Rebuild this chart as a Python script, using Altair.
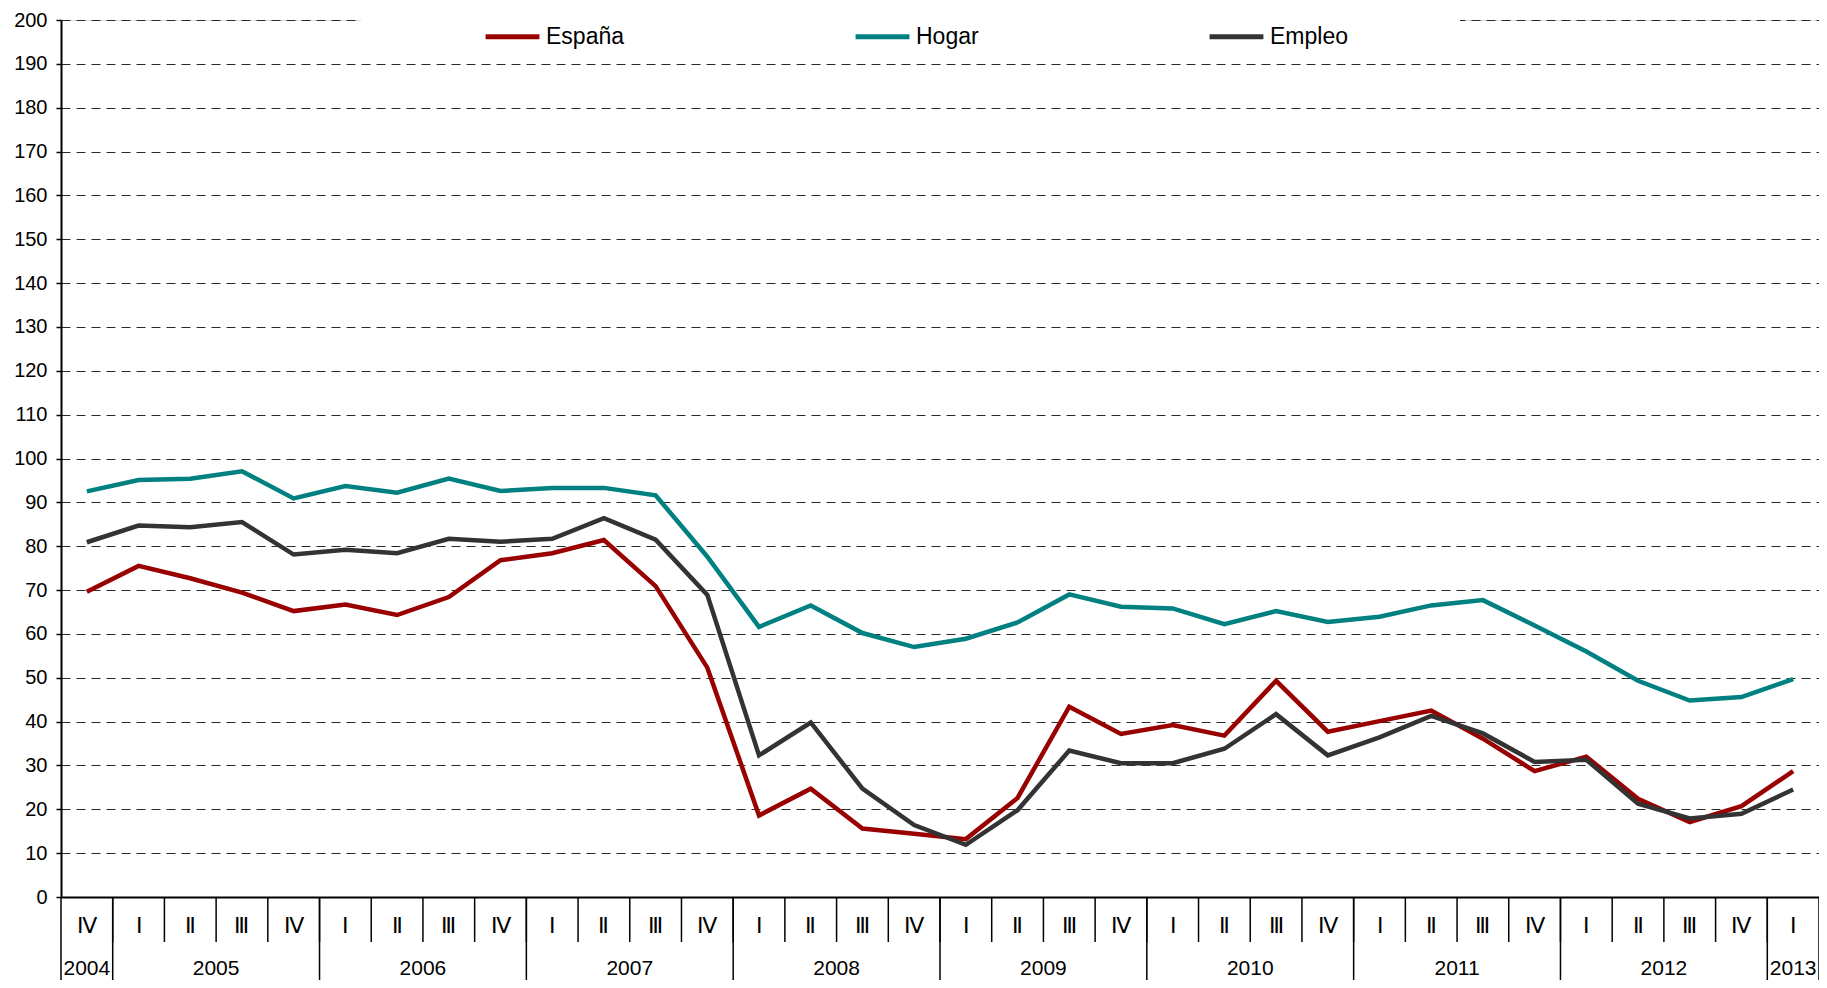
import altair as alt
import pandas as pd

# ---- data ----
quarter_labels = ["Ⅳ"] + ["Ⅰ", "Ⅱ", "Ⅲ", "Ⅳ"] * 8 + ["Ⅰ"]
year_names = ["2004", "2005", "2006", "2007", "2008", "2009", "2010", "2011", "2012", "2013"]
year_first_q = [0, 1, 5, 9, 13, 17, 21, 25, 29, 33]
year_n_q = [1, 4, 4, 4, 4, 4, 4, 4, 4, 1]

espana = [69.6, 75.5, 72.7, 69.4, 65.2, 66.7, 64.3, 68.4, 76.8, 78.4, 81.4, 70.9,
          52.3, 18.6, 24.7, 15.6, 14.4, 13.2, 22.6, 43.4, 37.2, 39.2, 36.8, 49.3,
          37.7, 40.1, 42.5, 36.1, 28.7, 32.0, 22.4, 17.1, 20.7, 28.7]
hogar = [92.5, 95.1, 95.4, 97.1, 90.9, 93.7, 92.2, 95.4, 92.6, 93.3, 93.3, 91.6,
         77.6, 61.6, 66.5, 60.2, 57.0, 58.9, 62.6, 69.0, 66.2, 65.8, 62.2, 65.2,
         62.7, 63.9, 66.5, 67.7, 61.9, 56.0, 49.3, 44.8, 45.6, 49.7]
empleo = [80.9, 84.7, 84.3, 85.5, 78.1, 79.2, 78.4, 81.7, 81.0, 81.7, 86.4, 81.5,
          68.9, 32.3, 39.8, 24.7, 16.4, 11.9, 19.8, 33.4, 30.5, 30.5, 33.8, 41.7,
          32.3, 36.4, 41.3, 37.3, 30.8, 31.3, 21.3, 17.9, 19.0, 24.5]

series = ["España", "Hogar", "Empleo"]
colors = ["#990000", "#008080", "#333333"]
y_ticks = list(range(0, 201, 10))

# ---- tables ----
n = len(quarter_labels)
rows = []
for s, vals in zip(series, [espana, hogar, empleo]):
    for i, v in enumerate(vals):
        rows.append({"pos": i + 0.5, "serie": s, "valor": v})
df_lines = pd.DataFrame(rows)
df_q = pd.DataFrame({"pos": [i + 0.5 for i in range(n)], "q": quarter_labels})
df_qdiv = pd.DataFrame({"b": list(range(1, n))})
df_years = pd.DataFrame({
    "year": year_names,
    "center": [f + k / 2 for f, k in zip(year_first_q, year_n_q)],
})
df_ydiv = pd.DataFrame({"b": year_first_q + [n]})

W = 1758
H = 877
TOP = 12
FONT = "Liberation Sans"

xscale = alt.Scale(domain=[0, n], nice=False, zero=False)
xaxis = alt.Axis(labels=False, ticks=False, grid=False, title=None,
                 domainColor="black", domainWidth=2)

mask = alt.Chart(pd.DataFrame({"a": [0]})).mark_rect(color="white").encode(
    x=alt.value(300), x2=alt.value(1399), y=alt.value(-8), y2=alt.value(8)
)

lines = alt.Chart(df_lines).mark_line(strokeWidth=4.5).encode(
    x=alt.X("pos:Q", scale=xscale, axis=xaxis),
    y=alt.Y("valor:Q", scale=alt.Scale(domain=[0, 200], nice=False),
            axis=alt.Axis(values=y_ticks, title=None, tickSize=5, tickColor="black",
                          tickWidth=1.5, labelFontSize=20, labelColor="black",
                          labelPadding=9, labelFont=FONT,
                          domainColor="black", domainWidth=2,
                          grid=True, gridColor="#2a2a2a", gridDash=[9, 6],
                          gridWidth=1)),
    color=alt.Color("serie:N", sort=series,
                    scale=alt.Scale(domain=series, range=colors),
                    legend=alt.Legend(orient="none", legendX=417, legendY=-18,
                                      direction="horizontal", title=None,
                                      symbolType="stroke", symbolStrokeWidth=5,
                                      symbolSize=2900, labelFontSize=23,
                                      labelColor="black", labelFont=FONT,
                                      labelOffset=4, columnPadding=220,
                                      fillColor="white", padding=5)),
    detail="serie:N",
)

qdiv = alt.Chart(df_qdiv).mark_rule(color="black", strokeWidth=1.5).encode(
    x=alt.X("b:Q", scale=xscale, axis=xaxis),
    y=alt.value(H), y2=alt.value(H + 45),
)
ydiv = alt.Chart(df_ydiv).mark_rule(color="black", strokeWidth=1.5).encode(
    x=alt.X("b:Q", scale=xscale, axis=xaxis),
    y=alt.value(H), y2=alt.value(H + 110),
)
qtext = alt.Chart(df_q).mark_text(fontSize=22, font=FONT, color="black",
                                   baseline="middle").encode(
    x=alt.X("pos:Q", scale=xscale, axis=xaxis),
    y=alt.value(H + 29),
    text="q:N",
)
ytext = alt.Chart(df_years).mark_text(fontSize=21, font=FONT, color="black",
                                      baseline="middle").encode(
    x=alt.X("center:Q", scale=xscale, axis=xaxis),
    y=alt.value(H + 72),
    text="year:N",
)

chart = alt.layer(mask, lines, qdiv, ydiv, qtext, ytext).properties(
    width=W, height=H,
    autosize=alt.AutoSizeParams(type="none"),
    padding={"left": 53, "top": TOP, "right": 0, "bottom": 972 - TOP - H},
    background="white",
).configure_view(stroke=None).configure(font=FONT)

chart.save("out.html", embed_options={"renderer": "svg", "actions": False})
